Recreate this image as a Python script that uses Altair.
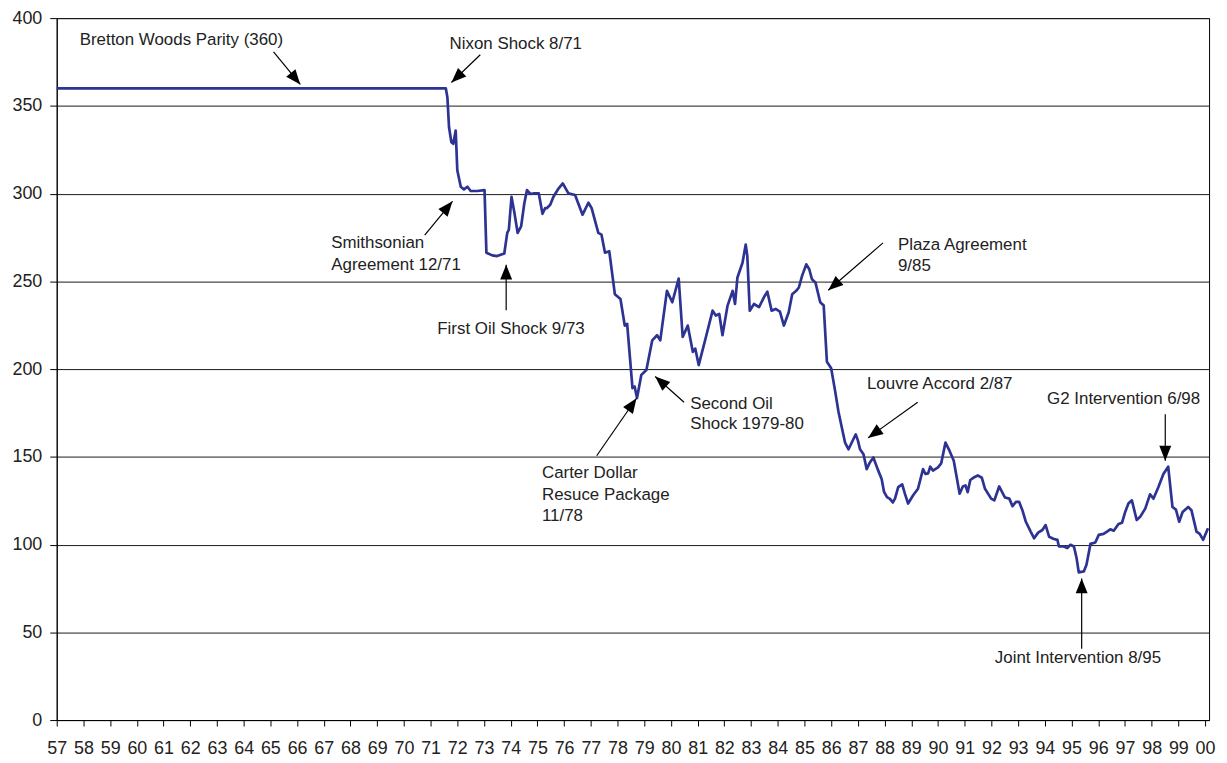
import math
import altair as alt
import pandas as pd

# ---- exchange rate series (yen per dollar) ----
years = [1957.00, 1971.51, 1971.57, 1971.63, 1971.69, 1971.78, 1971.85, 1971.94, 1972.00,
         1972.13, 1972.25, 1972.38, 1972.50, 1972.75, 1973.02, 1973.09, 1973.31, 1973.49,
         1973.76, 1973.87, 1973.93, 1974.03, 1974.14, 1974.26, 1974.39, 1974.51, 1974.61,
         1974.73, 1974.88, 1975.05, 1975.19, 1975.29, 1975.35, 1975.48, 1975.60, 1975.79,
         1975.95, 1976.16, 1976.41, 1976.69, 1976.91, 1977.03, 1977.28, 1977.40, 1977.53,
         1977.69, 1977.90, 1978.11, 1978.27, 1978.36, 1978.56, 1978.64, 1978.73, 1978.89,
         1979.08, 1979.30, 1979.48, 1979.60, 1979.85, 1980.05, 1980.29, 1980.44, 1980.63,
         1980.82, 1980.91, 1981.04, 1981.31, 1981.56, 1981.68, 1981.81, 1981.93, 1982.12,
         1982.31, 1982.40, 1982.49, 1982.68, 1982.80, 1982.86, 1982.95, 1983.11, 1983.30,
         1983.48, 1983.61, 1983.77, 1983.92, 1984.08, 1984.23, 1984.41, 1984.54, 1984.69,
         1984.79, 1984.91, 1985.07, 1985.18, 1985.28, 1985.41, 1985.59, 1985.72, 1985.84,
         1986.00, 1986.15, 1986.27, 1986.40, 1986.52, 1986.65, 1986.83, 1986.92, 1987.00,
         1987.08, 1987.21, 1987.33, 1987.45, 1987.58, 1987.74, 1987.89, 1987.98, 1988.09,
         1988.20, 1988.31, 1988.39, 1988.51, 1988.66, 1988.76, 1988.88, 1989.07, 1989.25,
         1989.44, 1989.53, 1989.63, 1989.71, 1989.81, 1990.00, 1990.12, 1990.28, 1990.43,
         1990.59, 1990.81, 1990.93, 1991.03, 1991.11, 1991.21, 1991.36, 1991.49, 1991.64,
         1991.76, 1991.99, 1992.11, 1992.29, 1992.51, 1992.67, 1992.79, 1992.92, 1993.04,
         1993.16, 1993.29, 1993.47, 1993.60, 1993.75, 1993.91, 1994.03, 1994.16, 1994.34,
         1994.47, 1994.53, 1994.71, 1994.84, 1994.96, 1995.09, 1995.19, 1995.27, 1995.46,
         1995.56, 1995.71, 1995.89, 1996.02, 1996.20, 1996.33, 1996.45, 1996.58, 1996.76,
         1996.89, 1997.01, 1997.13, 1997.26, 1997.44, 1997.57, 1997.76, 1997.94, 1998.07,
         1998.25, 1998.44, 1998.62, 1998.78, 1998.91, 1999.03, 1999.16, 1999.37, 1999.49,
         1999.68, 1999.80, 1999.93, 2000.11]
rates = [360.0, 360.0, 360.0, 354.7, 337.8, 329.3, 328.4, 335.9, 313.3,
         303.9, 302.4, 303.9, 301.5, 301.5, 302.0, 266.3, 264.8, 264.4,
         265.9, 277.6, 279.4, 298.2, 288.9, 277.6, 281.3, 294.5, 302.0,
         299.8, 300.2, 300.2, 288.5, 291.7, 291.7, 293.6, 298.2, 302.9,
         305.8, 300.1, 299.2, 288.0, 294.8, 291.7, 277.6, 276.6, 266.3,
         267.2, 242.7, 239.9, 224.8, 225.8, 189.2, 190.1, 183.5, 196.7,
         199.5, 216.4, 219.3, 216.4, 244.6, 238.1, 251.6, 218.3, 224.8,
         209.8, 211.7, 202.3, 218.3, 233.3, 230.5, 231.4, 219.3, 236.2,
         244.6, 237.1, 252.2, 260.6, 271.0, 264.4, 233.3, 237.1, 235.3,
         240.9, 244.1, 233.3, 234.3, 232.8, 224.8, 232.4, 242.7, 244.6,
         246.5, 253.1, 259.7, 256.9, 251.2, 249.4, 238.1, 236.2, 204.2,
         200.5, 187.3, 176.0, 166.6, 158.1, 154.3, 160.0, 162.8, 159.4,
         154.3, 151.5, 143.0, 146.8, 149.6, 143.0, 137.4, 130.0, 127.0,
         126.0, 124.0, 126.2, 132.7, 134.3, 129.0, 123.4, 128.1, 131.8,
         143.0, 140.2, 140.6, 144.4, 142.2, 144.0, 146.3, 158.1, 153.5,
         147.8, 129.0, 133.1, 133.7, 129.9, 136.8, 138.4, 139.4, 138.1,
         131.8, 126.2, 125.2, 133.1, 126.8, 126.2, 121.9, 124.3, 124.3,
         119.6, 113.0, 107.4, 103.6, 106.8, 108.3, 111.1, 104.5, 103.2,
         102.7, 98.9, 98.9, 98.0, 99.9, 98.9, 92.3, 84.2, 84.7,
         88.5, 100.4, 101.2, 105.5, 106.1, 107.4, 108.7, 107.9, 111.7,
         112.4, 118.6, 123.4, 125.2, 114.0, 115.8, 120.5, 128.6, 126.2,
         132.7, 140.2, 144.4, 121.4, 119.9, 113.0, 118.6, 121.4, 119.6,
         107.4, 106.1, 102.7, 109.3]

tick_years = list(range(1957, 2001))
y_ticks = [0, 50, 100, 150, 200, 250, 300, 350, 400]

# ---- annotation texts (one row per text line) ----
note_text = ["Bretton Woods Parity (360)", "Nixon Shock 8/71", "Smithsonian", "Agreement 12/71",
             "First Oil Shock 9/73", "Carter Dollar", "Resuce Package", "11/78",
             "Second Oil", "Shock 1979-80", "Plaza Agreement", "9/85", "Louvre Accord 2/87",
             "G2 Intervention 6/98", "Joint Intervention 8/95"]
note_year = [1957.86, 1971.71, 1967.28, 1967.28, 1974.01, 1975.17, 1975.17, 1975.17,
             1980.72, 1980.72, 1988.50, 1988.50, 1987.34, 1996.95, 1995.24]
note_val = [387.6, 385.3, 271.9, 259.5, 222.8, 140.5, 128.1, 116.2,
            180.0, 168.7, 270.8, 259.0, 191.3, 182.8, 35.5]
note_align = ["left", "left", "left", "left", "center", "left", "left", "left",
              "left", "left", "left", "left", "left", "center", "center"]

# ---- arrows: tail -> tip ----
arrow_y0 = [1965.12, 1972.86, 1970.78, 1973.83, 1977.22, 1980.49, 1987.94, 1989.24, 1998.51, 1995.38]
arrow_v0 = [380.8, 379.1, 276.4, 233.6, 150.6, 181.1, 271.9, 181.1, 174.3, 40.6]
arrow_y1 = [1966.12, 1971.78, 1971.82, 1973.83, 1978.71, 1979.41, 1985.89, 1987.38, 1998.51, 1995.38]
arrow_v1 = [362.2, 363.3, 295.6, 259.5, 183.4, 195.8, 244.9, 160.8, 147.8, 80.7]

W, H = 1159, 706
X_DOM = [1957, 2000.15]
Y_DOM = [0, 400]
px_per_year = W / (X_DOM[1] - X_DOM[0])
px_per_val = H / (Y_DOM[1] - Y_DOM[0])

angles = []
for a, b, c, d in zip(arrow_y0, arrow_v0, arrow_y1, arrow_v1):
    dx = (c - a) * px_per_year
    dy = -(d - b) * px_per_val
    ang = math.degrees(math.atan2(dx, -dy)) % 360
    angles.append(ang)

line_df = pd.DataFrame({"year": years, "rate": rates})
note_df = pd.DataFrame({"year": note_year, "rate": note_val, "label": note_text, "align": note_align})
arrow_df = pd.DataFrame({"year": arrow_y0, "rate": arrow_v0, "year2": arrow_y1,
                         "rate2": arrow_v1, "angle": angles})

FONT = "Liberation Sans"
xs = alt.Scale(domain=X_DOM, nice=False, zero=False)
ys = alt.Scale(domain=Y_DOM, nice=False)

x_axis = alt.Axis(values=tick_years, labelExpr="substring(toString(datum.value), 2, 4)",
                  grid=False, tickSize=6, tickColor="#000", domainColor="#000",
                  labelFont=FONT, labelFontSize=18, labelColor="#222",
                  labelPadding=14, labelOverlap=False, labelFlush=False, title="")
y_axis = alt.Axis(values=y_ticks, grid=True, gridColor="#1a1a1a", gridWidth=1,
                  tickSize=7, tickColor="#000", domainColor="#000",
                  labelFont=FONT, labelFontSize=18, labelColor="#222",
                  labelPadding=8, title="")

line = alt.Chart(line_df).mark_line(color="#2D3393", strokeWidth=2.7, strokeJoin="round").encode(
    x=alt.X("year:Q", scale=xs, axis=x_axis),
    y=alt.Y("rate:Q", scale=ys, axis=y_axis),
)

left_notes = alt.Chart(note_df).transform_filter("datum.align == 'left'").mark_text(
    font=FONT, fontSize=17, color="#222", align="left", baseline="middle").encode(
    x=alt.X("year:Q", scale=xs, axis=x_axis), y=alt.Y("rate:Q", scale=ys, axis=y_axis),
    text="label:N")

center_notes = alt.Chart(note_df).transform_filter("datum.align == 'center'").mark_text(
    font=FONT, fontSize=17, color="#222", align="center", baseline="middle").encode(
    x=alt.X("year:Q", scale=xs, axis=x_axis), y=alt.Y("rate:Q", scale=ys, axis=y_axis),
    text="label:N")

stems = alt.Chart(arrow_df).mark_rule(color="#000", strokeWidth=1.2).encode(
    x=alt.X("year:Q", scale=xs, axis=x_axis), y=alt.Y("rate:Q", scale=ys, axis=y_axis),
    x2="year2:Q", y2="rate2:Q")

heads = alt.Chart(arrow_df).mark_point(
    shape="M0,0L-0.8,2L0.8,2Z", filled=True, color="#000", opacity=1, size=225).encode(
    x=alt.X("year2:Q", scale=xs, axis=x_axis), y=alt.Y("rate2:Q", scale=ys, axis=y_axis),
    angle=alt.Angle("angle:Q", scale=None))

chart = alt.layer(line, stems, heads, left_notes, center_notes).properties(
    width=W, height=H,
    autosize=alt.AutoSizeParams(type="none"),
    padding={"left": 49, "top": 8, "right": 10, "bottom": 40},
    background="white",
).configure_view(stroke="#000", strokeWidth=1)

chart.save("out.html", embed_options={"renderer": "svg", "actions": False})
